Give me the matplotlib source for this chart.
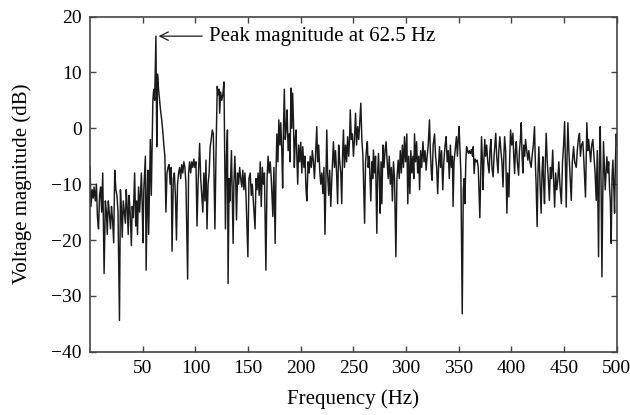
import numpy as np
import matplotlib
matplotlib.use("Agg")
import matplotlib.pyplot as plt

# (frequency Hz, magnitude dB), split by band
band_0_100 = [
    (0, -7), (0.8, -14), (2, -11), (3, -12.5), (3.8, -10.5), (5, -13), (6, -10), (7, -16),
    (8, -18), (9, -12), (10, -10.5), (11, -15), (12, -8), (13.3, -26), (14.5, -13), (15.5, -15),
    (16.3, -19), (17.3, -13), (18.2, -15), (19.4, -18), (20.3, -14), (21.2, -16), (22.4, -20.5),
    (23.4, -7.5), (24.5, -11), (25.5, -12), (26.5, -15), (27.9, -34.4), (28.8, -11), (29.6, -14),
    (30.5, -19.5), (31.5, -13), (32.5, -15), (33.5, -17), (34.3, -11), (35.2, -14), (36.2, -19),
    (37, -12), (38, -15), (39.2, -21), (40, -14), (41, -16), (42.3, -8), (43.3, -17.5), (44.2, -13),
    (45, -19), (46, -10.5), (47, -15), (47.8, -12), (48.7, -8), (49.5, -14), (50.2, -20.5), (51, -11),
    (52.5, -5), (53.2, -25.4), (54.2, -12), (54.8, -7.5), (55.6, -19), (56.5, -9), (57.2, -2),
    (58.1, -12), (59, -2), (59.6, 5), (60.4, 7), (61.3, 5), (62.5, 16.5), (63.3, -3.3), (64, 9.7),
    (65, 7), (66, 5), (67, 3), (68, 1.5), (69, -0.5), (70, -3), (71, -5), (72, -15), (73, -8),
    (74, -7), (75, -6.5), (76, -10), (77, -7), (77.8, -22), (79, -9), (80, -8), (81, -12), (82, -20),
    (83, -10), (84, -8), (85, -7), (86, -9), (87, -6.5), (88, -8), (89, -6), (90, -7), (91, -10),
    (92.6, -27), (93.5, -8), (94.5, -6), (95.5, -8), (96.5, -6), (97.5, -7), (98.5, -5.5), (99.5, -7),
]
band_100_200 = [
    (100.5, -6), (101.5, -17.5), (102.5, -10), (104, -2.7), (105, -9), (106, -12), (107, -15),
    (108, -8), (109, -13), (110, -5.7), (111, -18), (112, -10), (113, -8), (114, -3.3), (115, -2),
    (116, -0.3), (117, -1), (118.5, -18), (119.5, -5), (120.7, 7.5), (121.5, 6), (122.5, 7),
    (123, 2.7), (124, 6.5), (125, 5), (126, 6), (127.1, 8.3), (128.5, -18), (129.5, -5),
    (130.4, -0.3), (131, -27.8), (132, -9), (132.7, -13), (133.5, -8), (134.2, -4), (135, -12),
    (135.8, -20.6), (136.5, -10), (137.4, -5), (138.2, -9), (139, -16.4), (140, -8), (141, -10),
    (142, -7), (143, -9), (144, -10.5), (145, -7.5), (146, -11), (147, -8), (148, -12), (149.8, -23),
    (150.8, -9), (152, -8), (153, -12), (154, -10), (155, -13), (156.6, -18), (157.5, -9),
    (158.5, -11), (159.5, -8), (160.5, -12), (161.5, -6), (162.5, -14), (163.5, -7), (164.5, -10),
    (165.5, -8), (166.9, -25.4), (168, -9), (169, -5), (170, -8), (171, -6), (172, -9),
    (173.5, -15.8), (174.5, -7), (175.7, -20.6), (176.5, -8), (177.3, -1), (178.3, -6), (179.2, 1.5),
    (180.2, -3), (181, 1), (182, -4), (182.8, -10.7), (183.6, 0), (184.4, 7), (185.3, -2), (186.2, 0),
    (187, 3.3), (188, -4), (189, -1), (189.8, -6), (190.7, 7.2), (191.5, 0), (192.3, 6.3), (193.1, 1),
    (193.9, -7), (194.7, -2), (195.5, -0.3), (196.3, -5), (197.1, -10), (198, -3), (199, -6),
]
band_200_300 = [
    (200, -2.5), (201, -8), (201.9, -3.3), (203, -7), (204, -5), (205, -11), (205.8, -13), (207, -6),
    (208, -8), (209, -5), (210, -7), (211, -4), (212, -6), (213, -9), (214, -5), (215.2, 0.3),
    (216, -6), (217, -3), (218, -7.5), (219, -10), (220, -8), (221, -11.7), (222, -7), (223, -19),
    (224, -8), (224.7, -0.3), (225.5, -8), (226.5, -12), (227.5, -7.5), (228.5, -14), (229.5, -9),
    (231, -2.4), (232, -7), (233, -4), (234, -8), (235, -13.5), (236, -3), (237, -6), (238, -8),
    (238.9, -13.5), (239.7, -5), (240.5, -0.3), (241.5, -7), (242.5, -3), (243.5, -6), (244.5, -1.5),
    (245.5, -5), (246.3, -2), (247, 3.3), (248, -2), (249, -1), (250, -5), (251, -2), (252, 2.7),
    (253, -3), (254, 0.3), (255, -2), (256, 1), (257, 4.5), (258, -2), (259, -5), (260.6, -17),
    (261.5, -6), (262.3, -4), (263.2, -2.4), (264, -7), (265, -5), (266, -10), (266.5, -13),
    (267.5, -6), (268.3, -9), (269, -3.9), (270, -8), (271, -5), (272.2, -18.8), (273, -8),
    (273.8, -4.5), (274.6, -9), (275.4, -15.2), (276.2, -6), (277, -13.5), (278, -3), (279, -7),
    (280, -4), (281, -2.4), (282, -6), (283, -9), (284, -5), (285, -10), (286, -7), (287, -13),
    (288, -6), (289, -9), (290.3, -23), (291.3, -9), (292.5, -5.7), (293.5, -9), (294.5, -4),
    (295.5, -8), (296.5, -3), (297.5, -7), (298.5, -1.5), (299.5, -6),
]
band_300_400 = [
    (300.7, -1), (301.6, -13.5), (302.5, -5), (303.6, -11.7), (304.5, -4), (305.5, -8), (306.5, -5),
    (307.3, -9), (308, -1), (309, -6), (310, -2.4), (311, -8), (312, -5), (312.8, -11), (313.8, -4),
    (314.8, -7), (316, -2.4), (317, -6), (318, -4), (319, -7.5), (320, -5), (321, -3), (322.2, 1.5),
    (323, -4), (324, -8), (324.7, -9.3), (325.7, -3), (327, -1), (328, -5), (329, -7), (330, -11.7),
    (331, -6), (331.7, -3.3), (332.7, -7), (333.7, -4), (334.8, -11), (335.8, -6), (337, -3),
    (338, -1.5), (339, -6), (340, -4), (341, -9), (342, -3), (343, -7), (344, -5), (344.6, -14),
    (345.5, -6), (346.5, -4), (347.8, -1.5), (348.7, -5), (349.5, -2), (350.3, 0.3), (351, -3),
    (352, -8), (353.3, -33.2), (354.3, -11), (355.1, -9), (355.8, -13.5), (356.7, -6), (357.4, -3.3),
    (358.3, -4), (359.2, -4.5), (360, -4), (361, -4.5), (362, -3.8), (363, -5), (363.7, -3.3),
    (364.6, -8.1), (365.5, -5.5), (366.5, -6), (367.5, -5.7), (368.5, -7), (370, -16), (371.6, -1.5),
    (372.5, -6), (373, -11), (373.8, -6), (374.7, -2), (375.5, -5), (376.5, -3), (377.5, -6),
    (378.8, -8), (379.6, -4), (380.5, -2), (381.5, -7), (382.6, -8.7), (383.5, -5), (384.3, -3),
    (385.1, -0.9), (386, -5), (387.3, -8), (388, -4), (389, -1.5), (390, -4), (391, -6),
    (392, -10.5), (392.8, -5), (393.5, -1.5), (394.5, -4), (395.7, -15.2), (396.5, -8),
    (397.6, -12.3), (398.4, -5), (399.2, -0.3),
]
band_400_500 = [
    (400.3, -3), (401.4, -0.9), (402.2, -5), (403, -8.1), (403.8, -4), (404.6, -2.4), (405.6, -6),
    (406.8, -8.4), (407.6, -4), (408.5, -2), (409.3, 1), (410.1, -5), (410.9, -8), (411.7, -3),
    (412.6, -5), (413.4, -2), (414.5, -4), (415.6, -5.7), (416.5, -4), (417.6, -6), (418.7, -7),
    (419.6, -5), (420.8, -3), (421.9, 0.3), (422.7, -6), (423.5, -10.5), (424.4, -17.6), (425.2, -8),
    (426, -3.3), (427, -9), (428.2, -15.2), (429, -8), (429.8, -5.1), (430.6, -10), (431.4, -13.5),
    (432.2, -6), (433, -0.9), (434, -6), (435, -9), (436, -12.9), (437, -7), (438, -9), (439.2, -3.9),
    (440, -9), (441, -14.1), (442, -8), (443, -11), (444, -9.3), (445, -6), (446, -10), (447.4, -13.5),
    (448.5, -6), (449.5, -3), (450.5, 1.2), (451.2, -6), (452, -14.1), (452.8, -5), (453.6, 1),
    (454.5, -4), (455.5, -8), (456.8, -12.9), (457.8, -6), (459, -3.3), (460, -6), (461.5, -7),
    (462.5, -4), (463.5, -2), (464.6, -0.9), (465.5, -5), (466.5, -3), (467.8, -2.4), (468.8, -6),
    (469.5, -9), (470.3, -12.3), (471.6, 1), (472.5, -4), (473.3, -2), (474.2, -3.9), (475.2, -6),
    (476.2, -3), (477.3, -2), (478.3, -5), (479.4, -8), (480.5, -12.9), (481.5, -4), (482.7, -23),
    (483.5, -6), (484.3, 0.3), (485.1, -10), (485.9, -26.6), (486.7, -12), (487.4, -2.4), (488.2, -7),
    (489, -11), (489.8, -8), (490.6, -5.1), (491.5, -8), (492.3, -6), (493.1, -10.5), (493.9, -13),
    (494.7, -20.6), (495.5, -9), (496.3, -5.7), (497.1, -10), (497.9, -15.2), (498.7, -6),
    (499.5, -1), (500, -3),
]

x_ticks = [50, 100, 150, 200, 250, 300, 350, 400, 450, 500]
y_ticks = [-40, -30, -20, -10, 0, 10, 20]
peak_freq = 62.5
peak_db = 16.5

plt.rcParams["font.family"] = ["Liberation Serif", "DejaVu Serif"]

pts = np.array(band_0_100 + band_100_200 + band_200_300 + band_300_400 + band_400_500)
freq, mag = pts[:, 0], pts[:, 1]

fig = plt.figure(figsize=(6.3, 4.15), dpi=100)
ax = fig.add_axes([0.143, 0.1525, 0.836, 0.8075])
ax.plot(freq, mag, color="#1a1a1a", linewidth=1.05)

ax.set_xlim(0, 500)
ax.set_ylim(-40, 20)
ax.set_xticks(x_ticks)
ax.set_yticks(y_ticks)
ax.tick_params(direction="in", top=True, right=True, length=4, width=1.0,
               color="#444444", labelsize=14, pad=6)
for s in ax.spines.values():
    s.set_color("#444444")
    s.set_linewidth(1.2)

ax.set_xlabel("Frequency (Hz)", fontsize=15, labelpad=9)
ax.set_ylabel("Voltage magnitude (dB)", fontsize=15, labelpad=14)

ax.annotate(f"Peak magnitude at {peak_freq} Hz", xy=(peak_freq + 2.5, peak_db),
            xytext=(113, peak_db), va="center", ha="left", fontsize=15,
            arrowprops=dict(arrowstyle="->", color="#1a1a1a", lw=0.9,
                            shrinkA=3, shrinkB=0, mutation_scale=15))

fig.savefig("out.png", dpi=100)
